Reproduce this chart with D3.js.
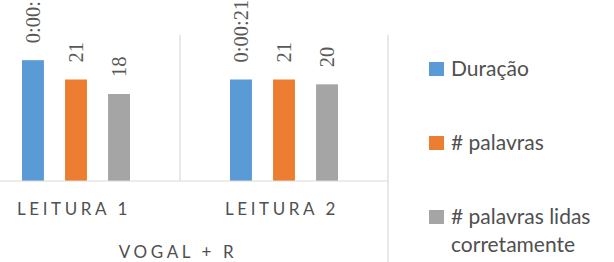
<!DOCTYPE html>
<html>
<head>
<meta charset="utf-8">
<script src="https://cdn.jsdelivr.net/npm/d3@7"></script>
<style>
  html, body { margin: 0; padding: 0; background: #fff; }
  svg { display: block; }
</style>
</head>
<body>
<svg id="chart" width="614" height="262"></svg>
<script>
// --- Data --------------------------------------------------------------
const categories = ['LEITURA 1', 'LEITURA 2'];
const groupLabel = 'VOGAL + R';
const seriesNames = ['Duração', '# palavras', '# palavras lidas corretamente'];
const duracao = [25, 21];            // seconds
const palavras = [21, 21];
const palavrasCorretas = [18, 20];
const colors = ['#5B9BD5', '#ED7D31', '#A5A5A5'];

const seriesValues = [duracao, palavras, palavrasCorretas];
const fmtTime = s => `0:${String(Math.floor(s / 60)).padStart(2, '0')}:${String(s % 60).padStart(2, '0')}`;
const labelFormats = [fmtTime, d => d, d => d];

// --- Layout ------------------------------------------------------------
const svg = d3.select('#chart');
const plotLeft = -28, plotRight = 388, baseline = 181, plotTop = 36;

const x0 = d3.scaleBand().domain(categories).range([plotLeft, plotRight]);
const x1 = d3.scaleBand().domain(d3.range(seriesNames.length))
  .range([50, 158]).paddingInner(0.49);
const y = d3.scaleLinear().domain([0, 30]).range([baseline, plotTop]);

const grid = '#d9d9d9';

// vertical separators between categories
svg.append('g').selectAll('line')
  .data(categories.map(c => x0(c) + x0.bandwidth()))
  .join('line')
  .attr('x1', d => d).attr('x2', d => d)
  .attr('y1', y(30) - 1)
  .attr('y2', (d, i) => i === categories.length - 1 ? 262 : baseline)
  .attr('stroke', grid).attr('stroke-width', 1.2);

// bars
const groups = svg.append('g').selectAll('g')
  .data(categories)
  .join('g')
  .attr('transform', d => `translate(${x0(d)},0)`);

groups.selectAll('rect')
  .data((c, ci) => seriesValues.map((vals, si) => ({ si, v: vals[ci] })))
  .join('rect')
  .attr('x', d => x1(d.si))
  .attr('width', x1.bandwidth())
  .attr('y', d => y(d.v))
  .attr('height', d => baseline - y(d.v))
  .attr('fill', d => colors[d.si]);

// data labels (rotated)
groups.selectAll('text')
  .data((c, ci) => seriesValues.map((vals, si) => ({ si, v: vals[ci] })))
  .join('text')
  .attr('transform', d => `translate(${x1(d.si) + x1.bandwidth() / 2 + 7},${y(d.v) - 17}) rotate(-90)`)
  .attr('font-family', '"Liberation Serif", serif')
  .attr('font-size', 20.5)
  .attr('fill', '#595959')
  .text(d => labelFormats[d.si](d.v));

// category axis baseline
svg.append('line')
  .attr('x1', 0).attr('x2', plotRight)
  .attr('y1', baseline).attr('y2', baseline)
  .attr('stroke', grid).attr('stroke-width', 1.2);

// category labels
svg.append('g').selectAll('text')
  .data(categories)
  .join('text')
  .attr('x', d => x0(d) + x0.bandwidth() / 2 - 2)
  .attr('y', 215)
  .attr('text-anchor', 'middle')
  .attr('font-family', 'Lato, sans-serif')
  .attr('font-size', 17)
  .attr('letter-spacing', 3.6)
  .attr('fill', '#505050')
  .text(d => d);

svg.append('text')
  .attr('x', (plotLeft + plotRight) / 2 - 2)
  .attr('y', 258)
  .attr('text-anchor', 'middle')
  .attr('font-family', 'Lato, sans-serif')
  .attr('font-size', 17)
  .attr('letter-spacing', 3.6)
  .attr('fill', '#505050')
  .text(groupLabel);

// --- Legend ------------------------------------------------------------
const legendLines = [['Duração'], ['# palavras'], ['# palavras lidas', 'corretamente']];
const legend = svg.append('g').selectAll('g')
  .data(seriesNames)
  .join('g')
  .attr('transform', (d, i) => `translate(429,${62 + i * 74})`);

legend.append('rect')
  .attr('width', 15).attr('height', 14)
  .attr('fill', (d, i) => colors[i]);

legend.append('text')
  .attr('font-family', 'Lato, sans-serif')
  .attr('font-size', 21)
  .attr('fill', '#505050')
  .selectAll('tspan')
  .data((d, i) => legendLines[i])
  .join('tspan')
  .attr('x', 22)
  .attr('y', (d, j) => 14 + j * 28)
  .text(d => d);
</script>
</body>
</html>
